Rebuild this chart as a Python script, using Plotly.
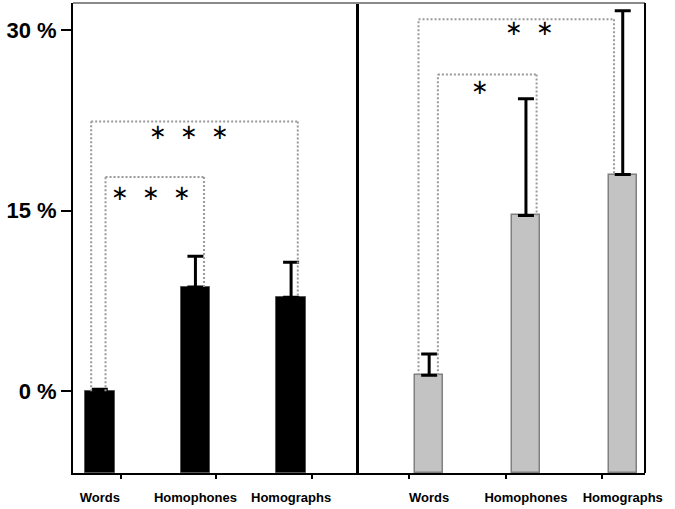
import plotly.graph_objects as go
from plotly.subplots import make_subplots

# ---------------- data ----------------
categories = ["Words", "Homophones", "Homographs"]
left_values = [0.0, 8.65, 7.8]
left_err = [0.15, 2.55, 2.9]
right_values = [1.33, 14.6, 18.0]
right_err = [1.75, 9.7, 13.6]
y_tick_vals = [0, 15, 30]
y_tick_text = ["0 %", "15 %", "30 %"]

# significance brackets: (from index, to index, level %, label)
left_brackets = [(0, 1, 17.8, "* * *"), (0, 2, 22.4, "* * *")]
right_brackets = [(0, 1, 26.3, "*"), (0, 2, 30.9, "* *")]

# ---------------- styling / geometry (not data) ----------------
left_leg_off = [(0.06, 0.09), (-0.09, 0.07)]
right_leg_off = [(0.09, 0.11), (-0.11, -0.09)]
left_lab_pos = [(0.54, -1.3), (0.93, -0.9)]   # (x, dy below level)
right_lab_pos = [(0.53, -1.0), (1.04, -0.7)]

ymin, ymax = -6.8, 32.25

fig = make_subplots(rows=1, cols=2, shared_yaxes=True, horizontal_spacing=0)
xs = list(range(len(categories)))

fig.add_trace(go.Bar(
    x=xs, y=[v - ymin for v in left_values], base=[ymin] * 3, width=0.31,
    marker=dict(color="black", line=dict(color="#555", width=1)),
    error_y=dict(type="data", symmetric=False, array=left_err, arrayminus=[0] * 3,
                 color="black", thickness=3, width=8),
    showlegend=False), row=1, col=1)
fig.add_trace(go.Bar(
    x=xs, y=[v - ymin for v in right_values], base=[ymin] * 3, width=0.29,
    marker=dict(color="#c3c3c3", line=dict(color="#808080", width=1.5)),
    error_y=dict(type="data", symmetric=False, array=right_err, arrayminus=[0] * 3,
                 color="black", thickness=3, width=8),
    showlegend=False), row=1, col=2)

shapes = []
annotations = []
dot = dict(color="#9a9a9a", width=2, dash="2px,2px")


def add_brackets(brackets, values, offs, labs, xref):
    for (i, j, lvl, txt), (oi, oj), (lx, dy) in zip(brackets, offs, labs):
        xi, xj = i + oi, j + oj
        shapes.append(dict(type="line", xref=xref, yref="y", x0=xi, x1=xi, y0=values[i], y1=lvl, line=dot))
        shapes.append(dict(type="line", xref=xref, yref="y", x0=xi, x1=xj, y0=lvl, y1=lvl, line=dot))
        shapes.append(dict(type="line", xref=xref, yref="y", x0=xj, x1=xj, y0=lvl, y1=values[j], line=dot))
        annotations.append(dict(x=lx, y=lvl + dy, xref=xref, yref="y", showarrow=False,
                                text=txt.replace("*", "∗").replace(" ", "\u00a0\u00a0"),
                                font=dict(family="DejaVu Sans", size=21, color="black"),
                                xanchor="center", yanchor="middle"))


add_brackets(left_brackets, left_values, left_leg_off, left_lab_pos, "x")
add_brackets(right_brackets, right_values, right_leg_off, right_lab_pos, "x2")

# frame
shapes.append(dict(type="line", xref="paper", yref="paper", x0=0, x1=1, y0=1, y1=1,
                   line=dict(color="#8a8a8a", width=2)))
shapes.append(dict(type="line", xref="paper", yref="paper", x0=1, x1=1, y0=0, y1=1,
                   line=dict(color="black", width=2)))

xfont = dict(family="Liberation Sans", size=13, color="black")
common_x = dict(tickvals=xs, ticktext=["<b>%s</b>" % c for c in categories], ticks="",
                tickangle=0, automargin=False,
                showline=True, linecolor="black", linewidth=2, zeroline=False, showgrid=False,
                tickfont=xfont, ticklabelstandoff=11)
fig.update_xaxes(range=[-0.28, 2.71],
                 minor=dict(tickvals=[x + 0.22 for x in xs], ticks="outside", ticklen=4,
                            tickwidth=1.5, tickcolor="black"),
                 row=1, col=1, **common_x)
fig.update_xaxes(range=[-0.725, 2.23],
                 minor=dict(tickvals=[x - 0.21 for x in xs], ticks="outside", ticklen=4,
                            tickwidth=1.5, tickcolor="black"),
                 row=1, col=2, **common_x)
fig.update_yaxes(range=[ymin, ymax], tickvals=y_tick_vals,
                 ticktext=["<b>%s</b>" % t for t in y_tick_text],
                 ticks="outside", ticklen=10, tickwidth=2, tickcolor="black", automargin=False,
                 showline=True, linecolor="black", linewidth=2, showgrid=False, zeroline=False,
                 tickfont=dict(family="Liberation Sans", size=22, color="black"),
                 ticklabelstandoff=0, row=1, col=1)
fig.update_yaxes(range=[ymin, ymax], showticklabels=False, ticks="", automargin=False,
                 showline=True, linecolor="black", linewidth=2.5, showgrid=False, zeroline=False,
                 row=1, col=2)

fig.update_layout(width=675, height=509, margin=dict(l=73, r=30, t=3, b=36),
                  plot_bgcolor="white", paper_bgcolor="white", bargap=0,
                  shapes=shapes, annotations=annotations)
fig.write_html("out.html", config={"displayModeBar": False},
               post_script="document.body.style.margin='0px';")
